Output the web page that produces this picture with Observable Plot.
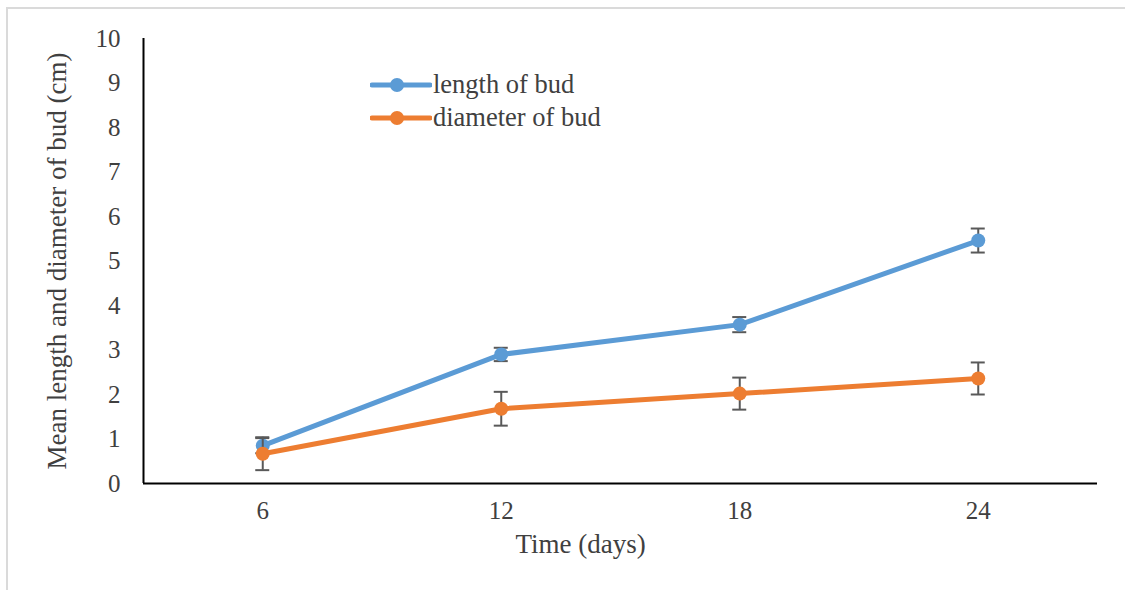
<!DOCTYPE html>
<html>
<head>
<meta charset="utf-8">
<script src="https://cdn.jsdelivr.net/npm/d3@7"></script>
<script src="https://cdn.jsdelivr.net/npm/@observablehq/plot@0.6"></script>
<style>
  html, body { margin: 0; padding: 0; background: #fff; }
  #wrap { position: relative; width: 1125px; height: 590px; overflow: hidden; }
  #border { position: absolute; left: 6px; top: 7px; width: 1200px; height: 700px;
            border-left: 2px solid #dadada; border-top: 2px solid #dadada; }
  #chart { position: absolute; left: 0; top: 0; }
  #legend { position: absolute; left: 370px; top: 68px; font-family: "Liberation Serif", serif;
            font-size: 26.5px; color: #404040; }
  .row { display: flex; align-items: center; height: 33px; }
  .row svg { margin-right: 1px; }
</style>
</head>
<body>
<div id="wrap"><div id="border"></div><div id="chart"></div><div id="legend"></div></div>
<script>
const days = [6, 12, 18, 24];
const seriesNames = ["length of bud", "diameter of bud"];
const lengthMean = [0.85, 2.90, 3.57, 5.46];
const lengthErr = [0.17, 0.15, 0.17, 0.27];
const diameterMean = [0.67, 1.68, 2.02, 2.36];
const diameterErr = [0.37, 0.38, 0.36, 0.36];
const colors = ["#5B9BD5", "#ED7D31"];
const yTicks = [0,1,2,3,4,5,6,7,8,9,10];
const xDomain = [3, 27];
const yDomain = [0, 10];
const xTitle = "Time (days)";
const yTitle = "Mean length and diameter of bud (cm)";

const lengthData = days.map((d, i) => ({day: d, v: lengthMean[i], e: lengthErr[i]}));
const diameterData = days.map((d, i) => ({day: d, v: diameterMean[i], e: diameterErr[i]}));

function seriesMarks(data, color) {
  return [
    Plot.ruleX(data, {x: "day", y1: d => d.v - d.e, y2: d => d.v + d.e, stroke: "#595959", strokeWidth: 2}),
    Plot.ruleY(data, {x1: "day", x2: "day", y: d => d.v + d.e, insetLeft: -7, insetRight: -7, stroke: "#595959", strokeWidth: 2}),
    Plot.ruleY(data, {x1: "day", x2: "day", y: d => d.v - d.e, insetLeft: -7, insetRight: -7, stroke: "#595959", strokeWidth: 2}),
    Plot.line(data, {x: "day", y: "v", stroke: color, strokeWidth: 5}),
    Plot.dot(data, {x: "day", y: "v", fill: color, r: 7})
  ];
}

const chart = Plot.plot({
  width: 1125,
  height: 590,
  marginLeft: 143,
  marginRight: 28,
  marginTop: 38,
  marginBottom: 107,
  style: {fontFamily: "Liberation Serif, serif", fontSize: "25px", color: "#404040", background: "transparent"},
  x: {domain: xDomain, label: null},
  y: {domain: yDomain, label: null},
  marks: [
    Plot.axisY({ticks: yTicks, tickSize: 0, tickPadding: 23, fontSize: 25, label: null, tickFormat: d => d}),
    Plot.axisX({ticks: days, tickSize: 0, tickPadding: 18, fontSize: 25, label: null, tickFormat: d => d}),
    Plot.ruleY([yDomain[0]], {stroke: "black", strokeWidth: 2}),
    Plot.ruleX([xDomain[0]], {stroke: "black", strokeWidth: 2}),
    ...seriesMarks(lengthData, colors[0]),
    ...seriesMarks(diameterData, colors[1]),
    Plot.text([xTitle], {frameAnchor: "bottom", textAnchor: "middle", dx: -40, dy: 69, fontSize: 27, fill: "#404040"}),
    Plot.text([yTitle], {frameAnchor: "left", textAnchor: "middle", dx: -86, rotate: -90, fontSize: 27, fill: "#404040"})
  ]
});
document.getElementById("chart").appendChild(chart);

const legend = document.getElementById("legend");
seriesNames.forEach((name, i) => {
  const row = document.createElement("div");
  row.className = "row";
  row.innerHTML = `<svg width="62" height="20"><line x1="2" y1="10" x2="60" y2="10" stroke="${colors[i]}" stroke-width="5" stroke-linecap="round"/><circle cx="27" cy="10" r="7" fill="${colors[i]}"/></svg><span>${name}</span>`;
  legend.appendChild(row);
});
</script>
</body>
</html>
